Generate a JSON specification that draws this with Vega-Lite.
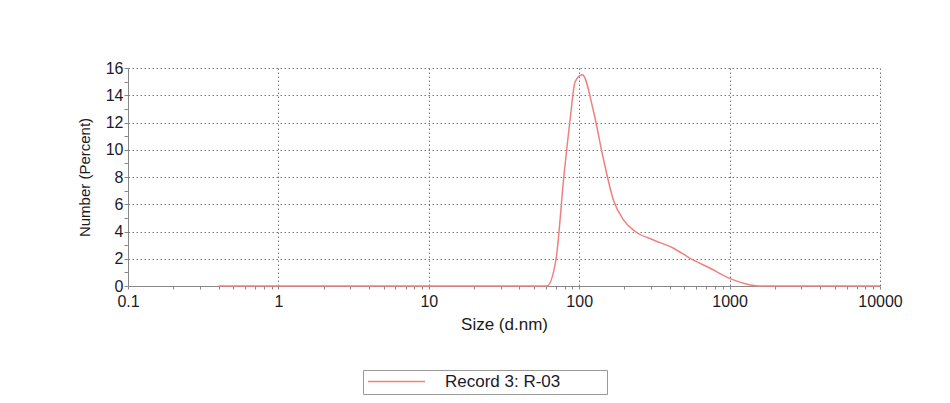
{
  "$schema": "https://vega.github.io/schema/vega-lite/v6.json",
  "autosize": "none",
  "width": 752,
  "height": 218,
  "padding": {"left": 128, "top": 68, "right": 70, "bottom": 117},
  "background": "white",
  "config": {
    "view": {"stroke": null},
    "font": "Liberation Sans",
    "axis": {"labelFont": "Liberation Sans", "titleFont": "Liberation Sans", "labelColor": "#1a1a2a", "titleColor": "#1a1a1a", "titleFontWeight": "normal", "domainColor": "#888888", "tickColor": "#888888", "gridColor": "#777777", "gridDash": [1.5, 2.5], "gridWidth": 1, "labelFlush": false}
  },
  "data": {
    "values": [
      {"size": 0.4, "number": 0, "series": "Record 3: R-03"},
      {"size": 1, "number": 0, "series": "Record 3: R-03"},
      {"size": 10, "number": 0, "series": "Record 3: R-03"},
      {"size": 40, "number": 0, "series": "Record 3: R-03"},
      {"size": 61, "number": 0, "series": "Record 3: R-03"},
      {"size": 70, "number": 1.9, "series": "Record 3: R-03"},
      {"size": 79, "number": 8.0, "series": "Record 3: R-03"},
      {"size": 87, "number": 12.2, "series": "Record 3: R-03"},
      {"size": 94, "number": 15.0, "series": "Record 3: R-03"},
      {"size": 105, "number": 15.5, "series": "Record 3: R-03"},
      {"size": 124, "number": 12.9, "series": "Record 3: R-03"},
      {"size": 145, "number": 9.3, "series": "Record 3: R-03"},
      {"size": 169, "number": 6.3, "series": "Record 3: R-03"},
      {"size": 197, "number": 4.85, "series": "Record 3: R-03"},
      {"size": 236, "number": 4.0, "series": "Record 3: R-03"},
      {"size": 312, "number": 3.38, "series": "Record 3: R-03"},
      {"size": 424, "number": 2.77, "series": "Record 3: R-03"},
      {"size": 547, "number": 2.03, "series": "Record 3: R-03"},
      {"size": 743, "number": 1.3, "series": "Record 3: R-03"},
      {"size": 1000, "number": 0.56, "series": "Record 3: R-03"},
      {"size": 1290, "number": 0.15, "series": "Record 3: R-03"},
      {"size": 1600, "number": 0, "series": "Record 3: R-03"},
      {"size": 3000, "number": 0, "series": "Record 3: R-03"},
      {"size": 10000, "number": 0, "series": "Record 3: R-03"}
    ]
  },
  "mark": {"type": "line", "interpolate": "monotone", "strokeWidth": 1.5},
  "encoding": {
    "x": {
      "field": "size", "type": "quantitative",
      "scale": {"type": "log", "domain": [0.1, 10000], "nice": false},
      "axis": {
        "title": "Size (d.nm)", "titleFontSize": 17, "titlePadding": 7,
        "values": [0.1,0.2,0.3,0.4,0.5,0.6,0.7,0.8,0.9,1,2,3,4,5,6,7,8,9,10,20,30,40,50,60,70,80,90,100,200,300,400,500,600,700,800,900,1000,2000,3000,4000,5000,6000,7000,8000,9000,10000],
        "labelExpr": "indexof([0.1,1,10,100,1000,10000], datum.value) >= 0 ? format(datum.value, '~g') : ''",
        "labelOverlap": false, "labelFontSize": 16, "labelPadding": 4,
        "tickSize": 3,
        "gridOpacity": {"condition": {"test": "indexof([0.1,1,10,100,1000,10000], datum.value) >= 0", "value": 1}, "value": 0}
      }
    },
    "y": {
      "field": "number", "type": "quantitative",
      "scale": {"domain": [0, 16], "nice": false},
      "axis": {
        "title": "Number (Percent)", "titleFontSize": 15, "titlePadding": 13,
        "values": [0,1,2,3,4,5,6,7,8,9,10,11,12,13,14,15,16],
        "labelExpr": "datum.value % 2 == 0 ? datum.label : ''",
        "labelOverlap": false, "labelFontSize": 16, "labelPadding": 1,
        "tickSize": 4,
        "gridOpacity": {"condition": {"test": "datum.value % 2 == 0 && datum.value > 0", "value": 1}, "value": 0}
      }
    },
    "color": {
      "field": "series", "type": "nominal",
      "scale": {"range": ["#f08080"]},
      "legend": {
        "title": null, "orient": "none", "legendX": 235, "legendY": 302,
        "symbolType": "stroke", "symbolSize": 3249, "symbolStrokeWidth": 1.5,
        "clipHeight": 15,
        "labelFontSize": 17, "labelColor": "#1a1a2a", "labelOffset": 19,
        "labelExpr": "datum.label + '\u00a0\u00a0\u00a0\u00a0\u00a0\u00a0\u00a0\u00a0\u00a0\u200b'",
        "strokeColor": "#999999", "padding": 4, "fillColor": "white"
      }
    }
  }
}
